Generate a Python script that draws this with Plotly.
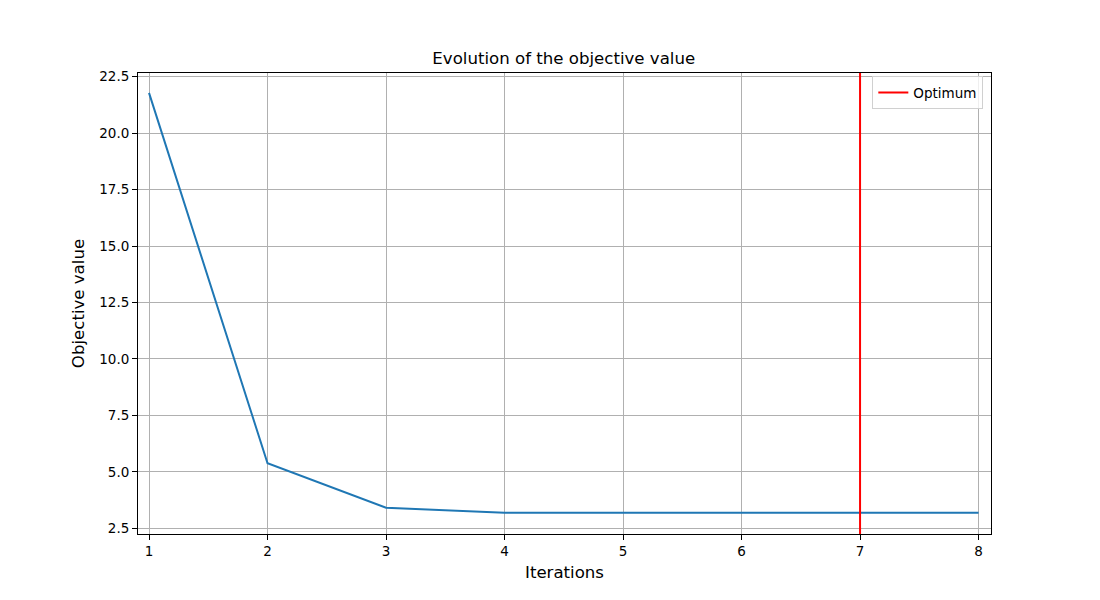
import plotly.graph_objects as go

iterations = [1, 2, 3, 4, 5, 6, 7, 8]
objective = [21.78, 5.38, 3.41, 3.19, 3.19, 3.19, 3.19, 3.19]
optimum_iteration = 7

FONT = "DejaVu Sans"

fig = go.Figure()
fig.add_trace(go.Scatter(
    x=iterations, y=objective, mode="lines",
    line=dict(color="#1f77b4", width=2), showlegend=False, name="objective"))

fig.add_shape(type="line", x0=optimum_iteration, x1=optimum_iteration, xref="x",
              y0=0, y1=1, yref="paper", line=dict(color="red", width=2),
              showlegend=True, name="Optimum")

axis_common = dict(
    showgrid=True, gridcolor="#b0b0b0", gridwidth=1,
    showline=True, linecolor="black", linewidth=1, mirror=True,
    ticks="outside", ticklen=5, tickcolor="black", tickwidth=1,
    zeroline=False, tickfont=dict(family=FONT, size=13.5, color="black"),
)

fig.update_xaxes(range=[0.907, 8.105], tickmode="array", tickvals=iterations,
                 title=dict(text="Iterations", font=dict(family=FONT, size=16.6, color="black"), standoff=8),
                 **axis_common)
fig.update_yaxes(range=[2.25, 22.66], tickmode="linear", tick0=2.5, dtick=2.5, tickformat=".1f",
                 title=dict(text="Objective value", font=dict(family=FONT, size=16.6, color="black"), standoff=10),
                 **axis_common)

fig.update_layout(
    width=1100, height=600,
    margin=dict(l=138, r=109, t=73, b=66),
    plot_bgcolor="white", paper_bgcolor="white",
    font=dict(family=FONT, color="black"),
    title=dict(text="Evolution of the objective value", x=0.5125, xanchor="center",
               y=1 - 58 / 600, yanchor="middle", font=dict(family=FONT, size=16.6, color="black")),
    legend=dict(x=0.991, y=0.993, xanchor="right", yanchor="top",
                bgcolor="rgba(255,255,255,0.8)", bordercolor="#d0d0d0", borderwidth=1,
                tracegroupgap=0, itemwidth=30,
                font=dict(family=FONT, size=13.5, color="black")),
)

fig.write_html("out.html")
